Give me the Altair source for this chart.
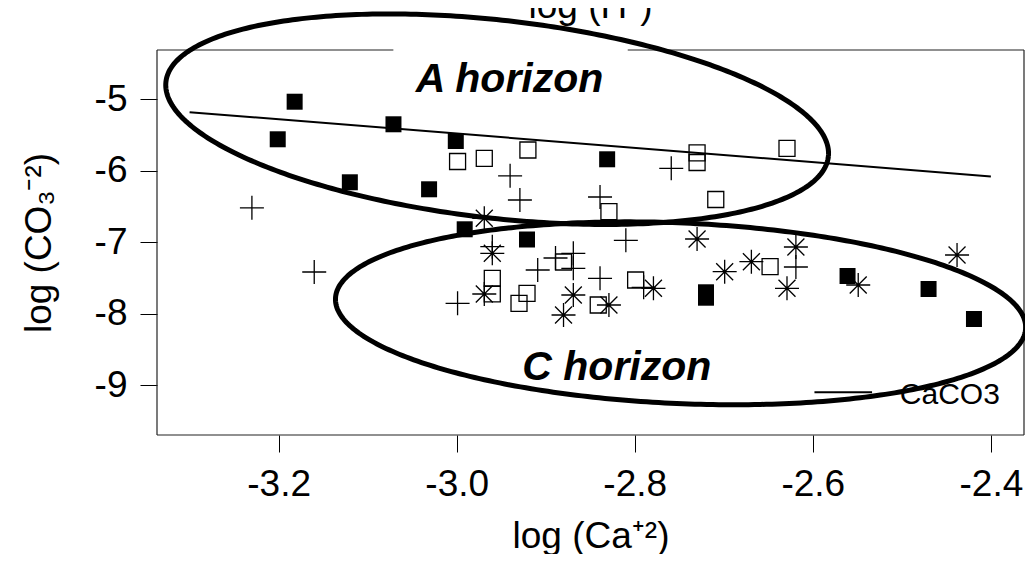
import altair as alt
import pandas as pd
import numpy as np

# ---------------- data ----------------
filled_x = [-3.182, -3.201, -3.071, -3.001, -3.120, -3.031, -2.991, -2.921, -2.831, -2.720, -2.720, -2.561, -2.470, -2.419]
filled_y = [-5.034, -5.560, -5.350, -5.584, -6.162, -6.260, -6.820, -6.963, -5.840, -7.702, -7.778, -7.474, -7.656, -8.076]

open_x = [-2.999, -2.969, -2.920, -2.730, -2.730, -2.629, -2.709, -2.829, -2.960, -2.960, -2.921, -2.930, -2.880, -2.799, -2.841, -2.648]
open_y = [-5.871, -5.826, -5.710, -5.749, -5.885, -5.686, -6.403, -6.574, -7.506, -7.723, -7.716, -7.856, -7.278, -7.530, -7.880, -7.343]

plus_x = [-3.230, -3.160, -2.999, -2.960, -2.940, -2.929, -2.759, -2.839, -2.810, -2.909, -2.889, -2.869, -2.869, -2.839, -2.790, -2.619]
plus_y = [-6.519, -7.418, -7.856, -7.064, -6.071, -6.410, -5.966, -6.368, -6.974, -7.390, -7.222, -7.156, -7.366, -7.506, -7.632, -7.348]

star_x = [-2.969, -2.960, -2.969, -2.730, -2.699, -2.669, -2.779, -2.869, -2.880, -2.829, -2.619, -2.629, -2.549, -2.438]
star_y = [-6.666, -7.156, -7.726, -6.956, -7.414, -7.274, -7.646, -7.740, -8.020, -7.880, -7.068, -7.646, -7.600, -7.180]

caco3_x = [-3.30, -2.40]
caco3_y = [-5.18, -6.08]

x_ticks = [-3.2, -3.0, -2.8, -2.6, -2.4]
y_ticks = [-9, -8, -7, -6, -5]

# ---------------- layout ----------------
REF_W = 873          # plot width measured on the reference
W, H = 867, 385      # plot size used here (page is 1033 px wide incl. margins)
SX = W / REF_W
XMIN, XMAX = -3.3366, -2.3628
YMIN, YMAX = -9.70, -4.31
FONT = "Liberation Sans"

xscale = alt.Scale(domain=[XMIN, XMAX], nice=False, zero=False)
yscale = alt.Scale(domain=[YMIN, YMAX], nice=False, zero=False)

xaxis = alt.Axis(
    values=x_ticks,
    labelExpr="datum.value < 0 ? '-' + format(-datum.value, '.1f') : format(datum.value, '.1f')",
    domain=False, grid=False, ticks=True, tickSize=17, tickColor="black", tickWidth=1,
    labelFont=FONT, labelFontSize=37, labelColor="black", labelBaseline="alphabetic",
    labelPadding=43, labelFlush=False, labelOverlap=False, labelBound=False,
    title="log (Ca⁺²)", titleFont=FONT, titleFontSize=37, titleFontWeight="normal",
    titleColor="black", titleBaseline="alphabetic", titleY=112,
)
yaxis = alt.Axis(
    values=y_ticks,
    labelExpr="datum.value < 0 ? '-' + format(-datum.value, 'd') : format(datum.value, 'd')",
    domain=False, grid=False, ticks=True, tickSize=17, tickColor="black", tickWidth=1,
    labelFont=FONT, labelFontSize=37, labelColor="black", labelAlign="right",
    labelBaseline="middle", labelPadding=13, labelFlush=False, labelOverlap=False, labelBound=False,
    title="log (CO₃⁻²)", titleFont=FONT, titleFontSize=37, titleFontWeight="normal",
    titleColor="black", titleBaseline="alphabetic", titleAngle=270, titleX=-107,
)

def pts(xs, ys):
    return pd.DataFrame({"x": xs, "y": ys})

def enc(chart, **extra):
    return chart.encode(
        x=alt.X("x:Q", scale=xscale, axis=xaxis),
        y=alt.Y("y:Q", scale=yscale, axis=yaxis),
        **extra,
    )

filled = enc(alt.Chart(pts(filled_x, filled_y)).mark_point(
    shape="square", filled=True, size=256, color="black", opacity=1))
opened = enc(alt.Chart(pts(open_x, open_y)).mark_point(
    shape="square", filled=False, size=256, color="black", strokeWidth=1.3, opacity=1))
plus = enc(alt.Chart(pts(plus_x, plus_y)).mark_point(
    shape="M-1,0L1,0M0,-1L0,1", filled=False, size=576, color="black",
    strokeWidth=1.3, opacity=1))
star = enc(alt.Chart(pts(star_x, star_y)).mark_point(
    shape="M-1,0L1,0M0,-1L0,1M-0.707,-0.707L0.707,0.707M-0.707,0.707L0.707,-0.707",
    filled=False, size=576, color="black", strokeWidth=1.3, opacity=1))
line = enc(alt.Chart(pts(caco3_x, caco3_y)).mark_line(color="black", strokeWidth=2))

# ---------------- annotation ellipses (reference pixel geometry -> data units) ----------------
def ellipse(cx, cy, a, b, deg, n=361):
    t = np.linspace(0, 2 * np.pi, n)
    th = np.radians(deg)
    px = cx + a * np.cos(t) * np.cos(th) - b * np.sin(t) * np.sin(th)
    py = cy + a * np.cos(t) * np.sin(th) + b * np.sin(t) * np.cos(th)
    return pd.DataFrame({
        "x": XMIN + px * (XMAX - XMIN) / REF_W,
        "y": YMAX - py * (YMAX - YMIN) / H,
        "o": np.arange(n),
    })

def ell_chart(df):
    return alt.Chart(df).mark_line(color="black", strokeWidth=5).encode(
        x=alt.X("x:Q", scale=xscale, axis=xaxis),
        y=alt.Y("y:Q", scale=yscale, axis=yaxis),
        order="o:Q",
    )

ellA = ell_chart(ellipse(342.5, 69.2, 335.6, 99.0, 6.4))
ellC = ell_chart(ellipse(527.2, 263.3, 347.8, 90.3, 2.47))

one = pd.DataFrame({"d": [0]})

def rule(x, x2, y, y2):
    return alt.Chart(one).mark_rule(color="#222", strokeWidth=1.2).encode(
        x=alt.value(x), x2=alt.value(x2), y=alt.value(y), y2=alt.value(y2))

frame = [
    rule(0, 0, 0, H), rule(W, W, 0, H), rule(0, W, H, H),
    rule(0, 238 * SX, 0, 0), rule(474 * SX, W, 0, 0),
]

def label(text, x, y, size, weight="normal", style="normal", align="center"):
    return alt.Chart(pd.DataFrame({"t": [text]})).mark_text(
        font=FONT, fontSize=size, fontWeight=weight, fontStyle=style,
        align=align, baseline="alphabetic", color="black",
    ).encode(x=alt.value(x * SX), y=alt.value(y), text="t:N")

texts = [
    label("A horizon", 355, 41.7, 41, weight="bold", style="italic"),
    label("C horizon", 463, 330, 41, weight="bold", style="italic"),
    label("CaCO3", 748, 354, 30, align="left"),
    label("log (H⁺)", 436.5, -32, 37),
]
legend_line = alt.Chart(one).mark_rule(color="black", strokeWidth=2).encode(
    x=alt.value(662 * SX), x2=alt.value(720 * SX), y=alt.value(342.3))

chart = alt.layer(
    filled, opened, plus, star, line, *frame, ellA, ellC, legend_line, *texts
).properties(
    width=W, height=H,
    autosize=alt.AutoSizeParams(type="none"),
    padding={"left": 149, "top": 42, "right": 1, "bottom": 119},
    background="white",
).configure_view(stroke=None)

chart.save("out.html", embed_options={"renderer": "svg", "actions": False})
